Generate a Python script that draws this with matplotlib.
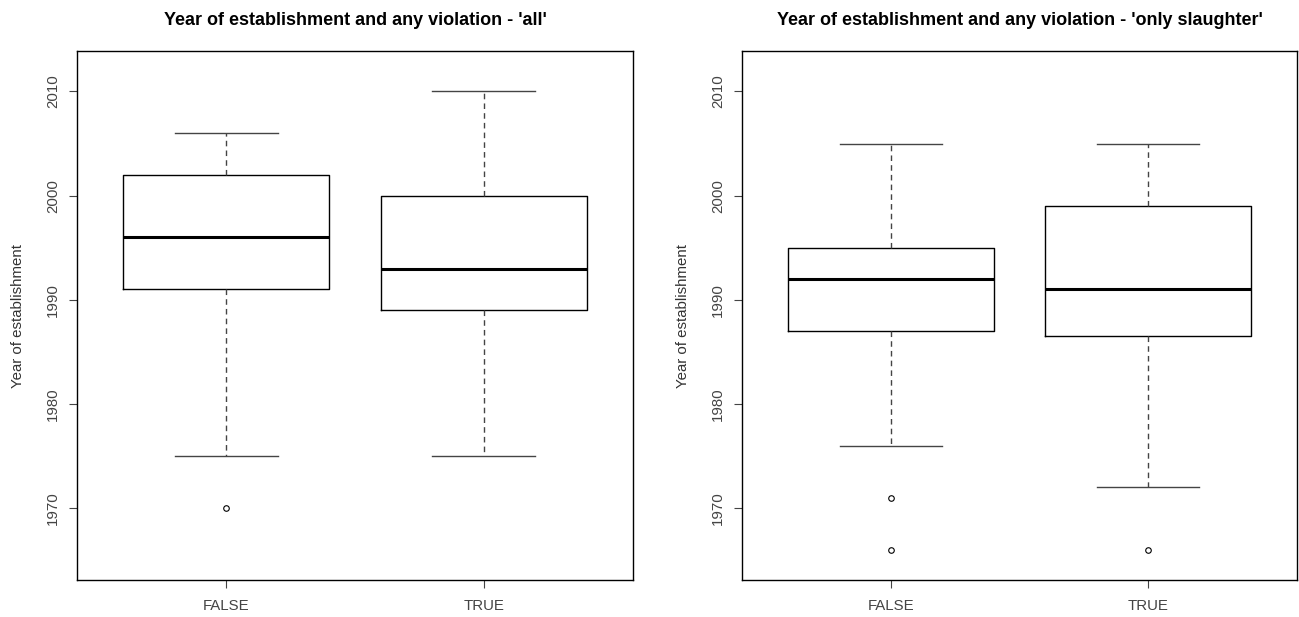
import matplotlib.pyplot as plt

plt.rcParams['font.family'] = ['Liberation Sans', 'DejaVu Sans']

# five-number summaries: low whisker, q1, median, q3, high whisker
groups = ['FALSE', 'TRUE']

all_low = [1975, 1975]
all_q1 = [1991, 1989]
all_med = [1996, 1993]
all_q3 = [2002, 2000]
all_high = [2006, 2010]
all_out = [[1970], []]

sl_low = [1976, 1972]
sl_q1 = [1987, 1986.5]
sl_med = [1992, 1991]
sl_q3 = [1995, 1999]
sl_high = [2005, 2005]
sl_out = [[1971, 1966], [1966]]

titles = ["Year of establishment and any violation - 'all'",
          "Year of establishment and any violation - 'only slaughter'"]


def make_stats(low, q1, med, q3, high, out):
    stats = []
    for i, g in enumerate(groups):
        stats.append(dict(label=g, whislo=low[i], q1=q1[i], med=med[i],
                          q3=q3[i], whishi=high[i], fliers=out[i]))
    return stats


fig = plt.figure(figsize=(12.99, 6.17), dpi=100)
W, H = 1299, 617
# axes boxes in pixels: left, right
boxes = [(77, 633), (742, 1297)]
top, bottom = 51, 580

panels = [make_stats(all_low, all_q1, all_med, all_q3, all_high, all_out),
          make_stats(sl_low, sl_q1, sl_med, sl_q3, sl_high, sl_out)]

for k in range(2):
    l, r = boxes[k]
    ax = fig.add_axes([l / W, 1 - bottom / H, (r - l) / W, (bottom - top) / H])
    ax.bxp(panels[k], positions=[1, 2], widths=0.8,
           boxprops=dict(color='black', linewidth=1.0),
           medianprops=dict(color='black', linewidth=2.2, solid_capstyle='butt'),
           whiskerprops=dict(color='#444444', linewidth=1.0, linestyle=(0, (4, 3))),
           capprops=dict(color='#444444', linewidth=1.0),
           flierprops=dict(marker='o', markersize=4, markerfacecolor='none',
                           markeredgecolor='black', markeredgewidth=0.8),
           capwidths=0.4)
    ax.set_xlim(0.42, 2.58)
    ax.set_ylim(1963.12, 2013.88)
    ax.set_yticks([1970, 1980, 1990, 2000, 2010])
    ax.set_yticklabels(['1970', '1980', '1990', '2000', '2010'], rotation=90, va='center')
    ax.tick_params(direction='out', length=5.8, width=0.8, colors='#444444',
                   labelsize=10.8, labelcolor='#444444')
    ax.tick_params(axis='y', pad=6.5)
    ax.tick_params(axis='x', pad=8)
    for s in ax.spines.values():
        s.set_linewidth(1.0)
        s.set_color('black')
    ax.set_ylabel('Year of establishment', fontsize=10.8, color='#333333', labelpad=15)
    ax.set_title(titles[k], fontsize=13, fontweight='bold', pad=19)

fig.savefig('out.png', dpi=100, facecolor='white')
